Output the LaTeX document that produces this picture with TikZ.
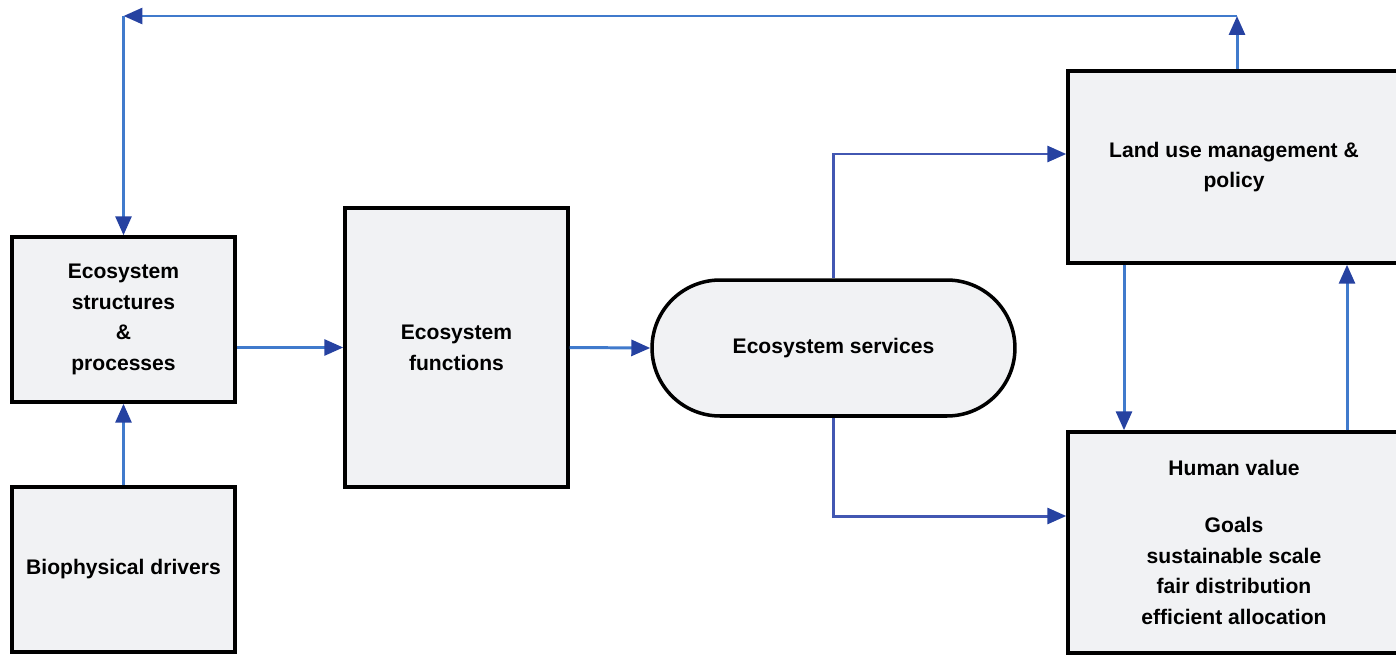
\documentclass[tikz,border=0pt]{standalone}
\usepackage{fontspec}
\setmainfont{Liberation Sans}
\usetikzlibrary{arrows.meta}
\definecolor{boxfill}{rgb}{0.945,0.949,0.957}
\definecolor{flow}{rgb}{0.25,0.48,0.80}
\definecolor{flowdark}{rgb}{0.26,0.34,0.70}
\definecolor{tip}{rgb}{0.15,0.26,0.63}

\tikzset{
  block/.style={draw, line width=2pt, fill=boxfill, align=center, inner sep=0pt,
    font=\fontsize{12}{17.5}\selectfont\bfseries},
  flowline/.style={flow, line width=1.7pt,
    -{Triangle[length=0.38cm,width=0.32cm,color=tip]}},
}

\begin{document}
\begin{tikzpicture}[x=0.02cm,y=-0.02cm]

  \useasboundingbox (0,0) rectangle (1396,656);

  % left column
  \node[block, minimum width=4.46cm, minimum height=3.3cm] (esp) at (123.5,319.5)
    {Ecosystem\\structures\\\&\\processes};
  \node[block, minimum width=4.46cm, minimum height=3.3cm] (bio) at (123.5,569.5)
    {Biophysical drivers};

  % middle
  \node[block, minimum width=4.46cm, minimum height=5.58cm] (fun) at (456.5,347.5)
    {Ecosystem\\functions};
  \node[block, rounded corners=1.36cm, minimum width=7.26cm, minimum height=2.72cm] (ser)
    at (833.5,348) {Ecosystem services};

  % right column
  \node[block, minimum width=6.64cm, minimum height=3.84cm] (lum) at (1234,167)
    {Land use management \&\\policy};
  \node[block, minimum width=6.64cm, minimum height=4.42cm] (hv) at (1234,542.5)
    {Human value\\[15pt]Goals\\sustainable scale\\fair distribution\\efficient allocation};

  \coordinate (c1) at (1237,16);
  \coordinate (c2) at (123.5,16);
  \coordinate (c3) at (833.5,154);
  \coordinate (c4) at (833.5,516);
  \coordinate (d1) at (1124,0);
  \coordinate (d2) at (1347,0);

  \draw[flowline] (bio) -- (esp);
  \draw[flowline] (fun.west -| esp.east) -- (fun.west);
  \draw[flowline] (fun.east) -- (ser.west);

  \draw[flowline, flowdark] (ser.north) -- (c3) -- (c3 -| lum.west);
  \draw[flowline, flowdark] (ser.south) -- (c4) -- (c4 -| hv.west);

  \draw[flowline] (lum.south -| d1) -- (hv.north -| d1);
  \draw[flowline] (hv.north -| d2) -- (lum.south -| d2);

  % feedback over the top
  \draw[flowline] (lum.north -| c1) -- (c1);
  \draw[flowline] (c1) -- (c2);
  \draw[flowline] (c2) -- (esp.north);

\end{tikzpicture}
\end{document}
